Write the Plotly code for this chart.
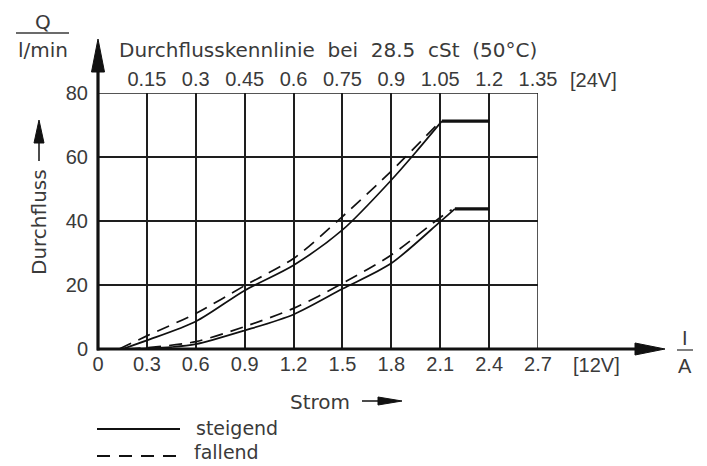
import plotly.graph_objects as go

# ---- data ----
strom_ticks = [0, 0.3, 0.6, 0.9, 1.2, 1.5, 1.8, 2.1, 2.4, 2.7]
strom_ticktext = ["0", "0.3", "0.6", "0.9", "1.2", "1.5", "1.8", "2.1", "2.4", "2.7"]
top_ticks = [0.15, 0.3, 0.45, 0.6, 0.75, 0.9, 1.05, 1.2, 1.35]
top_ticktext = ["0.15", "0.3", "0.45", "0.6", "0.75", "0.9", "1.05", "1.2", "1.35"]
flow_ticks = [0, 20, 40, 60, 80]

# upper characteristic
up_steig_x = [0.15, 0.3, 0.6, 0.9, 1.2, 1.5, 1.8, 1.95, 2.11]
up_steig_y = [0, 2.7, 8.6, 18.3, 26.2, 37.2, 52.8, 61.5, 71.2]
up_fall_x = [0.13, 0.3, 0.6, 0.9, 1.2, 1.5, 1.8, 2.09]
up_fall_y = [0, 4.1, 11.1, 19.8, 28.3, 41.4, 55.6, 70.6]
up_plateau_x = [2.11, 2.4]
up_plateau_y = [71.2, 71.2]

# lower characteristic
lo_steig_x = [0.18, 0.3, 0.45, 0.6, 0.9, 1.2, 1.5, 1.8, 2.1, 2.19]
lo_steig_y = [0, 0.2, 0.6, 1.5, 5.8, 10.8, 18.8, 26.8, 39.8, 43.8]
lo_fall_x = [0.18, 0.3, 0.6, 0.9, 1.2, 1.5, 1.8, 2.1, 2.17]
lo_fall_y = [0, 0.4, 2.3, 7.0, 12.7, 20.5, 29.4, 41.1, 43.5]
lo_plateau_x = [2.19, 2.4]
lo_plateau_y = [43.8, 43.8]

X_MAX = 2.7
Y_MAX = 80
TOP_MAX = 1.35

W, H = 707, 466
OFF = 8  # page body margin
# plot area in screen pixels: x 98..538, y 93..349
SX0, SX1, SY0, SY1 = 98, 538, 93, 349
ML = SX0 - OFF
MT = SY0 - OFF
MR = W - (SX1 - OFF)
MB = H - (SY1 - OFF)
PW = SX1 - SX0
PH = SY1 - SY0

def px(xs):
    return (xs - SX0) / PW

def py(ys):
    return (SY1 - ys) / PH

TXT = "#3a3a3a"
LINE = "#111111"
FONT_T = "DejaVu Sans"
FONT_N = "Liberation Sans"

fig = go.Figure()

solid = dict(color=LINE, width=1.7)
dashed = dict(color=LINE, width=1.7, dash="13px,8px")

fig.add_trace(go.Scatter(x=up_steig_x, y=up_steig_y, mode="lines",
                         line=dict(**solid, shape="spline", smoothing=0.8),
                         showlegend=False, hoverinfo="skip"))
fig.add_trace(go.Scatter(x=up_fall_x, y=up_fall_y, mode="lines",
                         line=dict(**dashed, shape="spline", smoothing=0.8),
                         showlegend=False, hoverinfo="skip"))
fig.add_trace(go.Scatter(x=lo_steig_x, y=lo_steig_y, mode="lines",
                         line=dict(**solid, shape="spline", smoothing=0.8),
                         showlegend=False, hoverinfo="skip"))
fig.add_trace(go.Scatter(x=lo_fall_x, y=lo_fall_y, mode="lines",
                         line=dict(**dashed, shape="spline", smoothing=0.8),
                         showlegend=False, hoverinfo="skip"))
fig.add_trace(go.Scatter(x=up_plateau_x, y=up_plateau_y, mode="lines",
                         line=dict(color=LINE, width=3.2),
                         showlegend=False, hoverinfo="skip"))
fig.add_trace(go.Scatter(x=lo_plateau_x, y=lo_plateau_y, mode="lines",
                         line=dict(color=LINE, width=3.2),
                         showlegend=False, hoverinfo="skip"))
# carrier for the top (24V) axis
fig.add_trace(go.Scatter(x=top_ticks, y=[0] * len(top_ticks), xaxis="x2",
                         mode="markers", marker=dict(opacity=0),
                         showlegend=False, hoverinfo="skip"))

grid = dict(showgrid=True, gridcolor="#1e1e1e", gridwidth=1.5, zeroline=False,
            showline=False, ticks="")

fig.update_layout(
    width=W, height=H,
    margin=dict(l=ML, r=MR, t=MT, b=MB, pad=0),
    paper_bgcolor="white", plot_bgcolor="white",
    xaxis=dict(range=[0, X_MAX], tickvals=strom_ticks, ticktext=strom_ticktext,
               tickfont=dict(family=FONT_N, size=20, color=TXT),
               ticklabelstandoff=1, **grid),
    xaxis2=dict(range=[0, TOP_MAX], overlaying="x", side="top", anchor="y",
                tickvals=top_ticks, ticktext=top_ticktext, showgrid=False,
                zeroline=False, showline=False, ticks="",
                tickfont=dict(family=FONT_N, size=20, color=TXT),
                ticklabelstandoff=2),
    yaxis=dict(range=[0, Y_MAX], tickvals=flow_ticks,
               tickfont=dict(family=FONT_N, size=20, color=TXT),
               ticklabelstandoff=9, **grid),
)

shapes = []
# grid frame
shapes.append(dict(type="rect", xref="x", yref="y", x0=0, y0=0, x1=X_MAX, y1=Y_MAX,
                   line=dict(color="#1e1e1e", width=1.5)))
# x axis with arrow
shapes.append(dict(type="line", xref="paper", yref="paper", x0=px(97), y0=0, x1=px(640), y1=0,
                   line=dict(color=LINE, width=3.2)))
shapes.append(dict(type="path", xref="paper", yref="paper",
                   path=f"M {px(635)} {py(343)} L {px(665)} {py(349)} L {px(635)} {py(355)} Z",
                   fillcolor=LINE, line=dict(color=LINE, width=1)))
# y axis with arrow
shapes.append(dict(type="line", xref="paper", yref="paper", x0=0, y0=py(350.5), x1=0, y1=py(68),
                   line=dict(color=LINE, width=3.2)))
shapes.append(dict(type="path", xref="paper", yref="paper",
                   path=f"M {px(91.5)} {py(72)} L {px(98)} {py(39)} L {px(104.5)} {py(72)} Z",
                   fillcolor=LINE, line=dict(color=LINE, width=1)))
# Durchfluss arrow
shapes.append(dict(type="line", xref="paper", yref="paper", x0=px(39), y0=py(161), x1=px(39), y1=py(140),
                   line=dict(color=LINE, width=1.5)))
shapes.append(dict(type="path", xref="paper", yref="paper",
                   path=f"M {px(34)} {py(143)} L {px(39)} {py(120)} L {px(44)} {py(143)} Z",
                   fillcolor=LINE, line=dict(color=LINE, width=1)))
# Strom arrow
shapes.append(dict(type="line", xref="paper", yref="paper", x0=px(362), y0=py(401), x1=px(382), y1=py(401),
                   line=dict(color=LINE, width=1.5)))
shapes.append(dict(type="path", xref="paper", yref="paper",
                   path=f"M {px(378)} {py(397)} L {px(402)} {py(401)} L {px(378)} {py(405)} Z",
                   fillcolor=LINE, line=dict(color=LINE, width=1)))
# fraction lines
shapes.append(dict(type="line", xref="paper", yref="paper", x0=px(16), y0=py(33), x1=px(69), y1=py(33),
                   line=dict(color=TXT, width=1.3)))
shapes.append(dict(type="line", xref="paper", yref="paper", x0=px(677), y0=py(350), x1=px(693), y1=py(350),
                   line=dict(color=TXT, width=1.3)))
# legend samples
shapes.append(dict(type="line", xref="paper", yref="paper", x0=px(97), y0=py(429), x1=px(180), y1=py(429),
                   line=dict(color=LINE, width=2)))
shapes.append(dict(type="line", xref="paper", yref="paper", x0=px(97), y0=py(456), x1=px(180), y1=py(456),
                   line=dict(color=LINE, width=2, dash="13px,9px")))
fig.update_layout(shapes=shapes)

def ann(text, x, y, xanchor="center", size=20, family=FONT_T, angle=0):
    fig.add_annotation(text=text, xref="paper", yref="paper", x=px(x), y=py(y),
                       xanchor=xanchor, yanchor="middle", showarrow=False,
                       textangle=angle, font=dict(family=family, size=size, color=TXT))

ann("Durchflusskennlinie  bei  28.5  cSt  (50°C)", 117, 50, xanchor="left")
ann("Q", 43, 22)
ann("l/min", 43, 50)
ann("[24V]", 593, 80, family=FONT_N)
ann("[12V]", 596, 365, family=FONT_N)
ann("I", 685, 338, family=FONT_N)
ann("A", 685, 366, family=FONT_N)
ann("Durchfluss", 39, 222, angle=-90)
ann("Strom", 288, 402, xanchor="left")
ann("steigend", 194, 428, size=19, xanchor="left")
ann("fallend", 192, 452, size=19, xanchor="left")

fig.write_html("out.html")
